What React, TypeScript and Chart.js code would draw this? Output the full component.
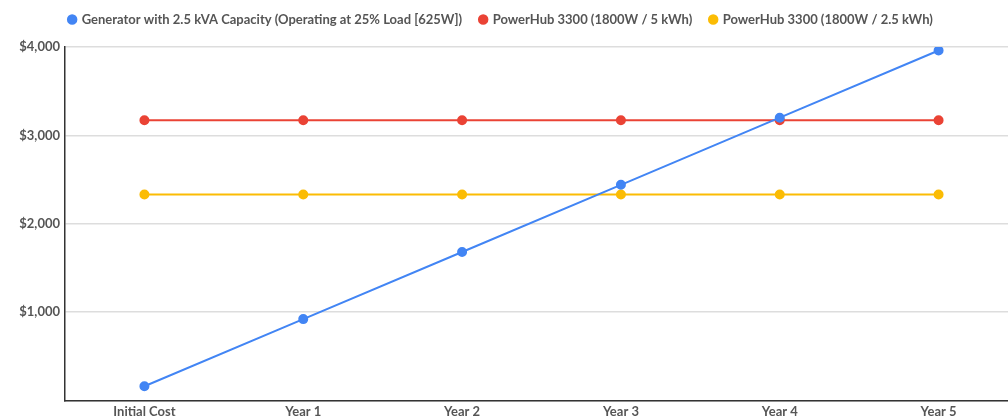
import React, { useEffect, useRef } from "react";
import { Chart, registerables } from "chart.js";

Chart.register(...registerables);

const categories = ["Initial Cost", "Year 1", "Year 2", "Year 3", "Year 4", "Year 5"];
const generatorCost = [160, 920, 1680, 2440, 3200, 3960];
const powerHub5kWh = [3170, 3170, 3170, 3170, 3170, 3170];
const powerHub25kWh = [2330, 2330, 2330, 2330, 2330, 2330];
const seriesNames = [
  "Generator with 2.5 kVA Capacity (Operating at 25% Load [625W])",
  "PowerHub 3300 (1800W / 5 kWh)",
  "PowerHub 3300 (1800W / 2.5 kWh)",
];
const yTicks = [0, 1000, 2000, 3000, 4000];

const FONT = "Lato, 'DejaVu Sans', sans-serif";

const legendSpacer = {
  id: "legendSpacer",
  beforeInit(chart: any) {
    const leg = chart.legend;
    if (!leg) return;
    const orig = leg.fit;
    leg.fit = function () {
      orig.call(this);
      this.height += 11;
    };
  },
  afterLayout(chart: any) {
    const leg = chart.legend;
    if (!leg) return;
    leg.left -= 11;
    leg.right -= 11;
  },
};

export default function App() {
  const ref = useRef<HTMLCanvasElement>(null);
  useEffect(() => {
    document.body.style.margin = "0";
    document.body.style.overflow = "hidden";
    const mk = (label: string, data: number[], color: string) => ({
      label,
      data,
      borderColor: color,
      backgroundColor: color,
      pointBackgroundColor: color,
      pointBorderColor: color,
      pointRadius: 4,
      pointHoverRadius: 4,
      borderWidth: 2,
      tension: 0,
    });
    const chart = new Chart(ref.current!, {
      type: "line",
      data: {
        labels: categories,
        datasets: [
          mk(seriesNames[0], generatorCost, "#4285f4"),
          mk(seriesNames[1], powerHub5kWh, "#ea4335"),
          mk(seriesNames[2], powerHub25kWh, "#fbbc04"),
        ],
      },
      plugins: [legendSpacer],
      options: {
        animation: false,
        responsive: false,
        layout: { padding: { left: 0, right: 0, top: -5, bottom: -5 } },
        plugins: {
          legend: {
            position: "top",
            labels: {
              usePointStyle: true,
              pointStyle: "circle",
              boxWidth: 6,
              boxHeight: 6,
              color: "#555",
              padding: 18,
              font: { family: FONT, size: 13, weight: "bold" },
            },
          },
          tooltip: { enabled: false },
        },
        scales: {
          x: {
            offset: true,
            grid: { display: false, drawTicks: false },
            border: { color: "#333", width: 1.5 },
            ticks: {
              color: "#555",
              padding: 4,
              font: { family: FONT, size: 13, weight: "bold" },
            },
          },
          y: {
            min: 0,
            max: 4000,
            afterBuildTicks: (s: any) => {
              s.ticks = yTicks.map((v) => ({ value: v }));
            },
            afterFit: (s: any) => {
              s.width = 65;
            },
            grid: { color: "#dddddd", drawTicks: false, lineWidth: 1.5 },
            border: { color: "#333", width: 1.5 },
            ticks: {
              color: "#555",
              padding: 5,
              font: { family: FONT, size: 13, weight: "bold" },
              callback: (v: any) => (v === 0 ? "" : "$" + Number(v).toLocaleString("en-US")),
            },
          },
        },
      },
    });
    return () => chart.destroy();
  }, []);
  return (
    <div style={{ position: "absolute", left: 0, top: 0, width: 1024, height: 419 }}>
      <canvas ref={ref} width={1024} height={419} />
    </div>
  );
}
